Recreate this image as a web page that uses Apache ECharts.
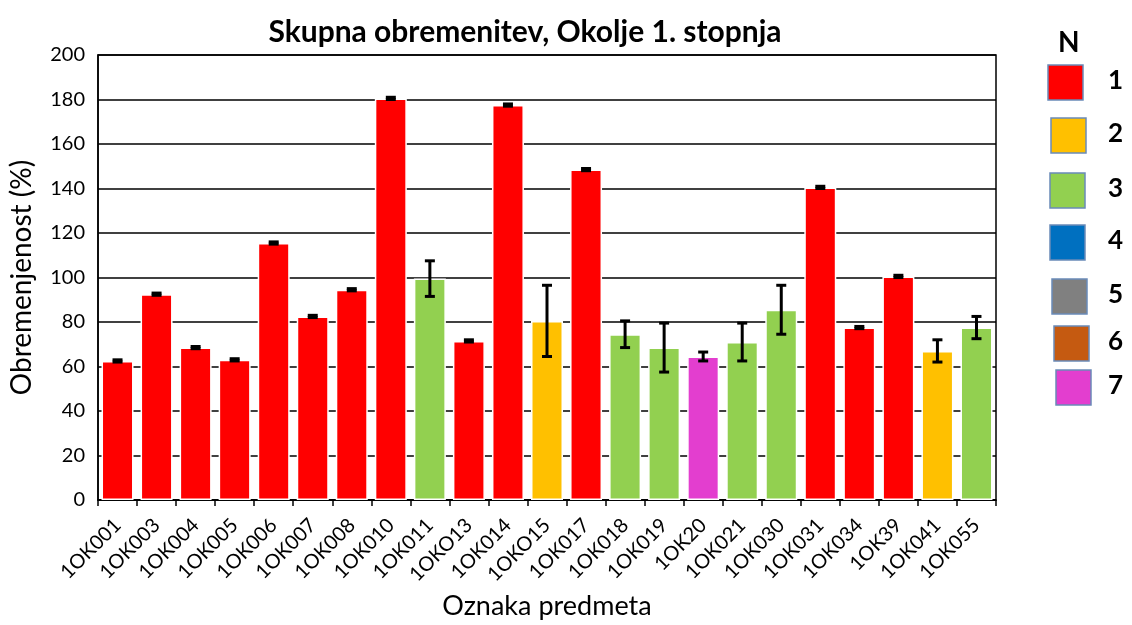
<!DOCTYPE html>
<html>
<head>
<meta charset="utf-8">
<script src="https://cdn.jsdelivr.net/npm/echarts@6/dist/echarts.min.js"></script>
<style>
  html, body { margin: 0; padding: 0; background: #fff; }
  #chart { width: 1132px; height: 625px; }
</style>
</head>
<body>
<div id="chart"></div>
<script>
// kategorije (oznake predmetov)
const categories = ["1OK001", "1OK003", "1OK004", "1OK005", "1OK006", "1OK007", "1OK008", "1OK010",
  "1OK011", "1OKO13", "1OK014", "1OKO15", "1OK017", "1OK018", "1OK019", "1OK20", "1OK021",
  "1OK030", "1OK031", "1OK034", "1OK39", "1OK041", "1OK055"];
// obremenjenost (%)
const values = [62.5, 92.5, 68.5, 63, 115.5, 82.5, 94.5, 180.5,
  99.5, 71.5, 177.5, 80.5, 148.5, 74.5, 68.5, 64.5, 71,
  85.5, 140.5, 77.5, 100.5, 67, 77.5];
// napaka (+/-)
const errors = [0.5, 0.5, 0.5, 0.5, 0.5, 0.5, 0.5, 0.5,
  8, 0.5, 0.5, 16, 0.5, 6, 11, 2, 8.5,
  11, 0.5, 0.5, 0.5, 5, 5];
// N za vsak predmet
const groups = [1, 1, 1, 1, 1, 1, 1, 1,
  3, 1, 1, 2, 1, 3, 3, 7, 3,
  3, 1, 1, 1, 2, 3];
// legenda
const legendLabels = ["1", "2", "3", "4", "5", "6", "7"];
const legendColors = ["#ff0000", "#ffc000", "#92d050", "#0070c0", "#808080", "#c55a11", "#e33ecf"];
const yTicks = [0, 20, 40, 60, 80, 100, 120, 140, 160, 180, 200];

const font = "Lato, 'Open Sans', sans-serif";

const chart = echarts.init(document.getElementById("chart"));

// legenda kot grafika (nepravilni razmiki kot v originalu)
const legendY = [65, 118, 173, 225, 279, 326, 370];
const legendX = [1048, 1051, 1050, 1050, 1052, 1054, 1056];
const graphic = [{
  type: "text", left: 1058, top: 29,
  style: { text: "N", font: "bold 28px " + font, fill: "#000" }
}];
legendLabels.forEach((lab, i) => {
  graphic.push({
    type: "rect",
    shape: { x: legendX[i], y: legendY[i], width: 35, height: 35 },
    style: { fill: legendColors[i], stroke: "#6a8bb8", lineWidth: 1.5 }
  });
  graphic.push({
    type: "text", left: 1108, top: legendY[i] + 3,
    style: { text: lab, font: "bold 26px " + font, fill: "#000" }
  });
});

const option = {
  backgroundColor: "#fff",
  animation: false,
  title: {
    text: "Skupna obremenitev, Okolje 1. stopnja",
    left: 520, top: 12, textAlign: "center",
    textStyle: { fontFamily: font, fontSize: 30, fontWeight: "bold", color: "#000" }
  },
  grid: { left: 98, right: 136, top: 55, bottom: 125, show: true, borderColor: "#000", borderWidth: 1.5 },
  xAxis: {
    type: "category",
    data: categories,
    name: "Oznaka predmeta",
    nameLocation: "middle",
    nameGap: 93,
    nameTextStyle: { fontFamily: font, fontSize: 27, color: "#000" },
    axisLine: { lineStyle: { color: "#000", width: 1.5 } },
    axisTick: { show: true, alignWithLabel: false, length: 6, lineStyle: { color: "#000", width: 1.5 } },
    axisLabel: { rotate: 45, interval: 0, margin: 22, fontFamily: font, fontSize: 20, color: "#000" }
  },
  yAxis: {
    type: "value",
    min: 0, max: 200, interval: 20,
    name: "Obremenjenost (%)",
    nameLocation: "middle",
    nameGap: 62,
    nameTextStyle: { fontFamily: font, fontSize: 28, color: "#000" },
    axisLine: { show: true, lineStyle: { color: "#000", width: 1.5 } },
    axisTick: { show: false },
    axisLabel: { fontFamily: font, fontSize: 20, color: "#000", margin: 13,
      formatter: v => yTicks.includes(v) ? String(v) : "" },
    splitLine: { lineStyle: { color: "#000", width: 1.5 } }
  },
  graphic: graphic,
  series: [
    {
      type: "bar",
      barWidth: 32,
      data: values.map((v, i) => ({
        value: v,
        itemStyle: { color: legendColors[groups[i] - 1], borderColor: "#fff", borderWidth: 1.5 }
      }))
    },
    {
      type: "custom",
      data: values.map((v, i) => [i, v - errors[i], v + errors[i]]),
      z: 5,
      renderItem: function (params, api) {
        const lo = api.coord([api.value(0), api.value(1)]);
        const hi = api.coord([api.value(0), api.value(2)]);
        const hw = 5;
        const st = { stroke: "#000", lineWidth: 3 };
        return {
          type: "group",
          children: [
            { type: "line", shape: { x1: hi[0], y1: hi[1], x2: lo[0], y2: lo[1] }, style: st },
            { type: "line", shape: { x1: hi[0] - hw, y1: hi[1], x2: hi[0] + hw, y2: hi[1] }, style: st },
            { type: "line", shape: { x1: lo[0] - hw, y1: lo[1], x2: lo[0] + hw, y2: lo[1] }, style: st }
          ]
        };
      }
    }
  ]
};
chart.setOption(option);
</script>
</body>
</html>
